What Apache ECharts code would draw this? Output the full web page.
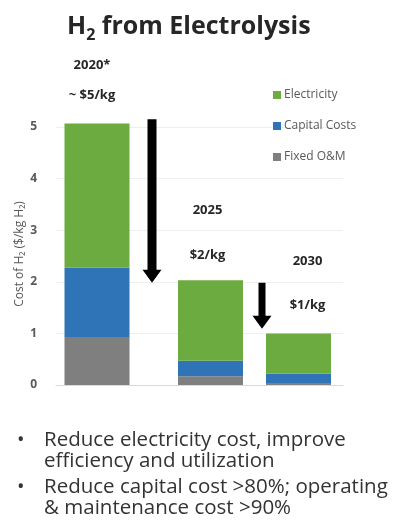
<!DOCTYPE html>
<html>
<head>
<meta charset="utf-8">
<script src="https://cdn.jsdelivr.net/npm/echarts@6/dist/echarts.min.js"></script>
<style>
  html, body { margin: 0; padding: 0; background: #fff; }
  #chart { width: 393px; height: 521px; }
</style>
</head>
<body>
<div id="chart"></div>
<script>
// data
var years = ['2020*', '2025', '2030']
var priceLabels = ['~ $5/kg', '$2/kg', '$1/kg']
var fixedOM = [0.93, 0.17, 0.04]
var capital = [1.34, 0.30, 0.18]
var electricity = [2.80, 1.56, 0.78]
var yTicks = [0, 1, 2, 3, 4, 5]
// arrows: from value -> to value
var arrows = [[5.15, 1.98], [1.98, 1.09]]
var bullets = [
  ['Reduce electricity cost, improve', 'efficiency and utilization'],
  ['Reduce capital cost >80%; operating', '& maintenance cost >90%']
]

// layout: each year gets its own little grid so the spacing can be uneven
var barCenters = [97, 210.5, 298.5]
var arrowX = [152, 262]
var labelOffsets = [[-5, -13], [-3, -2], [9, -6]]
var labelLineHeights = [30, 45, 44]

var green = '#6cab40'
var blue = '#2e74b6'
var grey = '#7f7f7f'
var txt = '#595959'
var yMin = yTicks[0]
var yMax = yTicks[yTicks.length - 1]

var grids = [{ left: 56, right: 50, top: 127, bottom: 136 }]
var xAxes = [{
  gridIndex: 0, type: 'category', data: [''],
  axisLine: { lineStyle: { color: '#d9d9d9' } },
  axisTick: { show: false }, axisLabel: { show: false }
}]
var yAxes = [{
  gridIndex: 0, type: 'value', min: yMin, max: yMax, interval: 1,
  name: 'Cost of H₂ ($/kg H₂)',
  nameLocation: 'middle',
  nameGap: 30,
  nameMoveOverlap: false,
  nameTextStyle: { color: txt, fontSize: 12, fontFamily: 'Open Sans', padding: [0, 0, 0, 4] },
  axisLine: { show: false },
  axisTick: { show: false },
  axisLabel: { color: txt, fontSize: 12, fontWeight: 'bold', margin: 19, fontFamily: 'Open Sans' },
  splitLine: { lineStyle: { color: '#eeeeee' } }
}]
var series = []

years.forEach(function (yr, i) {
  var g = i + 1
  grids.push({ left: barCenters[i] - 40, right: 393 - (barCenters[i] + 40), top: 127, bottom: 136 })
  xAxes.push({ gridIndex: g, type: 'category', data: [yr], show: false })
  yAxes.push({ gridIndex: g, type: 'value', min: yMin, max: yMax, show: false })
  var common = { type: 'bar', stack: 'h2_' + i, xAxisIndex: g, yAxisIndex: g, barWidth: 65, clip: false }
  series.push(Object.assign({ name: 'Fixed O&M', itemStyle: { color: grey }, data: [fixedOM[i]] }, common))
  series.push(Object.assign({ name: 'Capital Costs', itemStyle: { color: blue }, data: [capital[i]] }, common))
  series.push(Object.assign({
    name: 'Electricity',
    itemStyle: { color: green },
    label: {
      show: true,
      position: 'top',
      distance: 0,
      offset: labelOffsets[i],
      lineHeight: labelLineHeights[i],
      formatter: yr + '\n' + priceLabels[i],
      color: '#262626',
      fontWeight: 'bold',
      fontSize: 13,
      fontFamily: 'Open Sans'
    },
    data: [electricity[i]]
  }, common))
})

var myChart = echarts.init(document.getElementById('chart'))
var option = {
  animation: false,
  title: {
    text: '{a|H}{s|2}{a| from Electrolysis}',
    left: 62,
    top: 6,
    textStyle: {
      rich: {
        a: { fontSize: 25, fontWeight: 'bold', color: '#262626', fontFamily: 'Open Sans' },
        s: { fontSize: 16, fontWeight: 'bold', color: '#262626', fontFamily: 'Open Sans', padding: [16, 0, 0, 0] }
      }
    }
  },
  legend: {
    orient: 'vertical',
    left: 268,
    top: 84,
    itemWidth: 8,
    itemHeight: 8,
    itemGap: 19,
    icon: 'rect',
    data: ['Electricity', 'Capital Costs', 'Fixed O&M'],
    textStyle: { color: txt, fontSize: 12, fontFamily: 'Open Sans', padding: [0, 0, 0, -2] }
  },
  grid: grids,
  xAxis: xAxes,
  yAxis: yAxes,
  series: series
}
myChart.setOption(option)

// arrows and bullet text
function yPix (v) {
  return myChart.convertToPixel({ yAxisIndex: 0 }, v)
}
var shafts = [4.5, 3.5]
var graphics = arrows.map(function (ar, i) {
  var x = arrowX[i]
  var y0 = yPix(ar[0])
  var y1 = yPix(ar[1])
  var hw = 9.5
  var hl = 13
  var sw = shafts[i]
  return {
    type: 'polygon',
    shape: {
      points: [
        [x - sw, y0], [x + sw, y0], [x + sw, y1 - hl], [x + hw, y1 - hl],
        [x, y1], [x - hw, y1 - hl], [x - sw, y1 - hl]
      ]
    },
    style: { fill: '#000' }
  }
})
var lineY = 430
bullets.forEach(function (b) {
  graphics.push({
    type: 'text', left: 17, top: lineY,
    style: { text: '•', fontSize: 20, fill: '#333', fontFamily: 'Open Sans' }
  })
  b.forEach(function (line) {
    graphics.push({
      type: 'text', left: 44, top: lineY,
      style: { text: line, fontSize: 20.5, fill: '#333', fontFamily: 'Open Sans' }
    })
    lineY += 21
  })
  lineY += 5
})
myChart.setOption({ graphic: graphics })
</script>
</body>
</html>
